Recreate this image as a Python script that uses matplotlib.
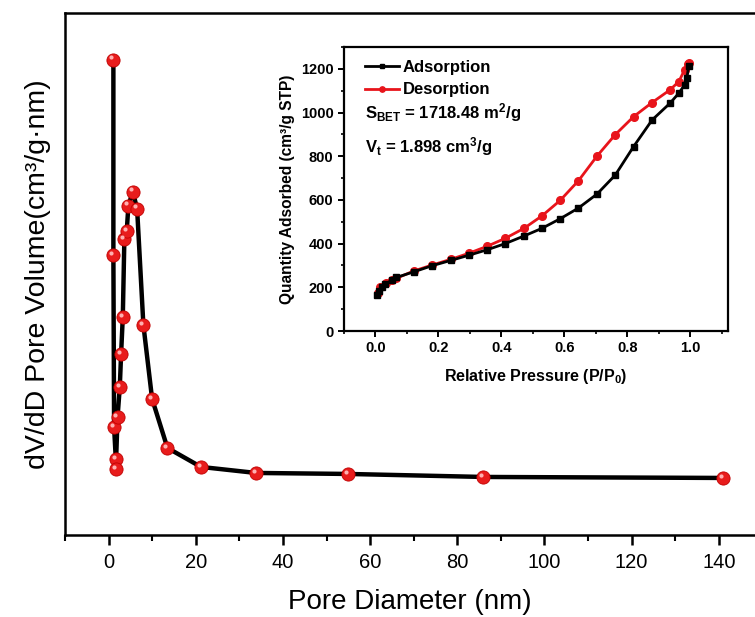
import matplotlib
matplotlib.use("Agg")
import matplotlib.pyplot as plt
from matplotlib.transforms import ScaledTranslation
from matplotlib.ticker import MultipleLocator

plt.rcParams['font.family'] = ['Liberation Sans', 'DejaVu Sans']
plt.rcParams['mathtext.fontset'] = 'custom'
plt.rcParams['mathtext.rm'] = 'Liberation Sans:bold'
plt.rcParams['mathtext.it'] = 'Liberation Sans:bold'
plt.rcParams['mathtext.bf'] = 'Liberation Sans:bold'

# ---- main: BJH pore size distribution ----
pore_d = [1.1, 1.1, 1.26, 1.65, 1.65, 2.06, 2.57, 2.87, 3.26, 3.62, 4.17, 4.54,
          5.55, 6.54, 7.98, 9.98, 13.5, 21.2, 33.8, 54.9, 85.9, 140.9]
dvdd = [0.2375, 0.140, 0.054, 0.038, 0.033, 0.059, 0.074, 0.0905, 0.109, 0.148,
        0.152, 0.1645, 0.1715, 0.163, 0.105, 0.068, 0.0435, 0.034, 0.031, 0.0305,
        0.029, 0.0285]
main_xticks = [0, 20, 40, 60, 80, 100, 120, 140]

# ---- inset: N2 isotherm ----
ads_p = [0.004, 0.01, 0.02, 0.03, 0.053, 0.066, 0.122, 0.18, 0.239, 0.297, 0.355,
         0.412, 0.472, 0.529, 0.587, 0.645, 0.704, 0.762, 0.82, 0.879, 0.936,
         0.964, 0.982, 0.99, 0.995]
ads_q = [165, 185, 200, 213, 234, 245, 271, 299, 323, 347, 372, 400, 435, 470,
         514, 563, 627, 714, 844, 966, 1043, 1089, 1126, 1160, 1215]
des_p = [0.997, 0.992, 0.982, 0.964, 0.936, 0.879, 0.82, 0.762, 0.704, 0.645,
         0.587, 0.529, 0.472, 0.412, 0.355, 0.297, 0.239, 0.18, 0.122, 0.066,
         0.053, 0.032, 0.016, 0.008]
des_q = [1229, 1222, 1195, 1142, 1104, 1046, 981, 899, 801, 688, 598, 527, 470,
         424, 388, 356, 328, 302, 275, 241, 234, 218, 200, 173]

fig = plt.figure(figsize=(7.55, 6.17), dpi=100)
ax = fig.add_axes([0.0861, 0.1329, 0.9139, 0.8468])
ax.plot(pore_d, dvdd, color='black', lw=3.2, zorder=2)
ax.plot(pore_d, dvdd, ls='none', marker='o', ms=9.5, mfc='#e81c1c',
        mec='#c00000', mew=0.6, zorder=3)
hl = ax.transData + ScaledTranslation(-1.6 / 72, 1.6 / 72, fig.dpi_scale_trans)
ax.plot(pore_d, dvdd, ls='none', marker='o', ms=3.0, mfc='#ffb0b0',
        mec='none', transform=hl, zorder=4)
ax.set_xlim(-10, 148.3)
ax.set_ylim(0, 0.261)
ax.set_yticks([])
ax.set_xticks(main_xticks)
ax.xaxis.set_minor_locator(MultipleLocator(10))
ax.spines['right'].set_visible(False)
for s in ['left', 'bottom', 'top']:
    ax.spines[s].set_linewidth(1.8)
ax.tick_params(axis='x', which='major', direction='out', length=7, width=1.8,
               labelsize=14.5, pad=6)
ax.tick_params(axis='x', which='minor', direction='out', length=4, width=1.5)
ax.set_xlabel('Pore Diameter (nm)', fontsize=20, labelpad=12)
ax.set_ylabel('dV/dD Pore Volume(cm³/g·nm)', fontsize=20.5, labelpad=10)

# ---- inset ----
ins = fig.add_axes([0.4556, 0.4635, 0.5086, 0.4603])
ins.plot(ads_p, ads_q, color='black', lw=2.0, marker='s', ms=4.5,
         label='Adsorption', zorder=3)
ins.plot(des_p, des_q, color='#e8141b', lw=2.0, marker='o', ms=5.5,
         label='Desorption', zorder=2)
ins.set_xlim(-0.1, 1.12)
ins.set_ylim(0, 1300)
ins.set_xticks([0.0, 0.2, 0.4, 0.6, 0.8, 1.0])
ins.set_yticks([0, 200, 400, 600, 800, 1000, 1200])
ins.xaxis.set_minor_locator(MultipleLocator(0.1))
ins.yaxis.set_minor_locator(MultipleLocator(100))
for s in ins.spines.values():
    s.set_linewidth(1.6)
ins.tick_params(which='major', direction='out', length=4, width=1.4,
                labelsize=10.5)
ins.tick_params(which='minor', direction='out', length=2.5, width=1.2)
for lab in ins.get_xticklabels() + ins.get_yticklabels():
    lab.set_fontweight('bold')
ins.set_xlabel('Relative Pressure (P/P$_0$)', fontsize=11.5, fontweight='bold',
               labelpad=8)
ins.set_ylabel('Quantity Adsorbed (cm³/g STP)', fontsize=11.2, fontweight='bold',
               labelpad=4)
leg = ins.legend(loc='upper left', frameon=False,
                 prop={'weight': 'bold', 'size': 12}, handlelength=2.0,
                 handletextpad=0.25, borderaxespad=0.2, labelspacing=0.45,
                 markerscale=0.7, bbox_to_anchor=(0.03, 0.99))
ins.text(0.055, 0.768, 'S$_{BET}$ = 1718.48 m$^{2}$/g', transform=ins.transAxes,
         fontsize=12, fontweight='bold', va='center')
ins.text(0.055, 0.648, 'V$_{t}$ = 1.898 cm$^{3}$/g', transform=ins.transAxes,
         fontsize=12, fontweight='bold', va='center')

fig.savefig('out.png', dpi=100)
